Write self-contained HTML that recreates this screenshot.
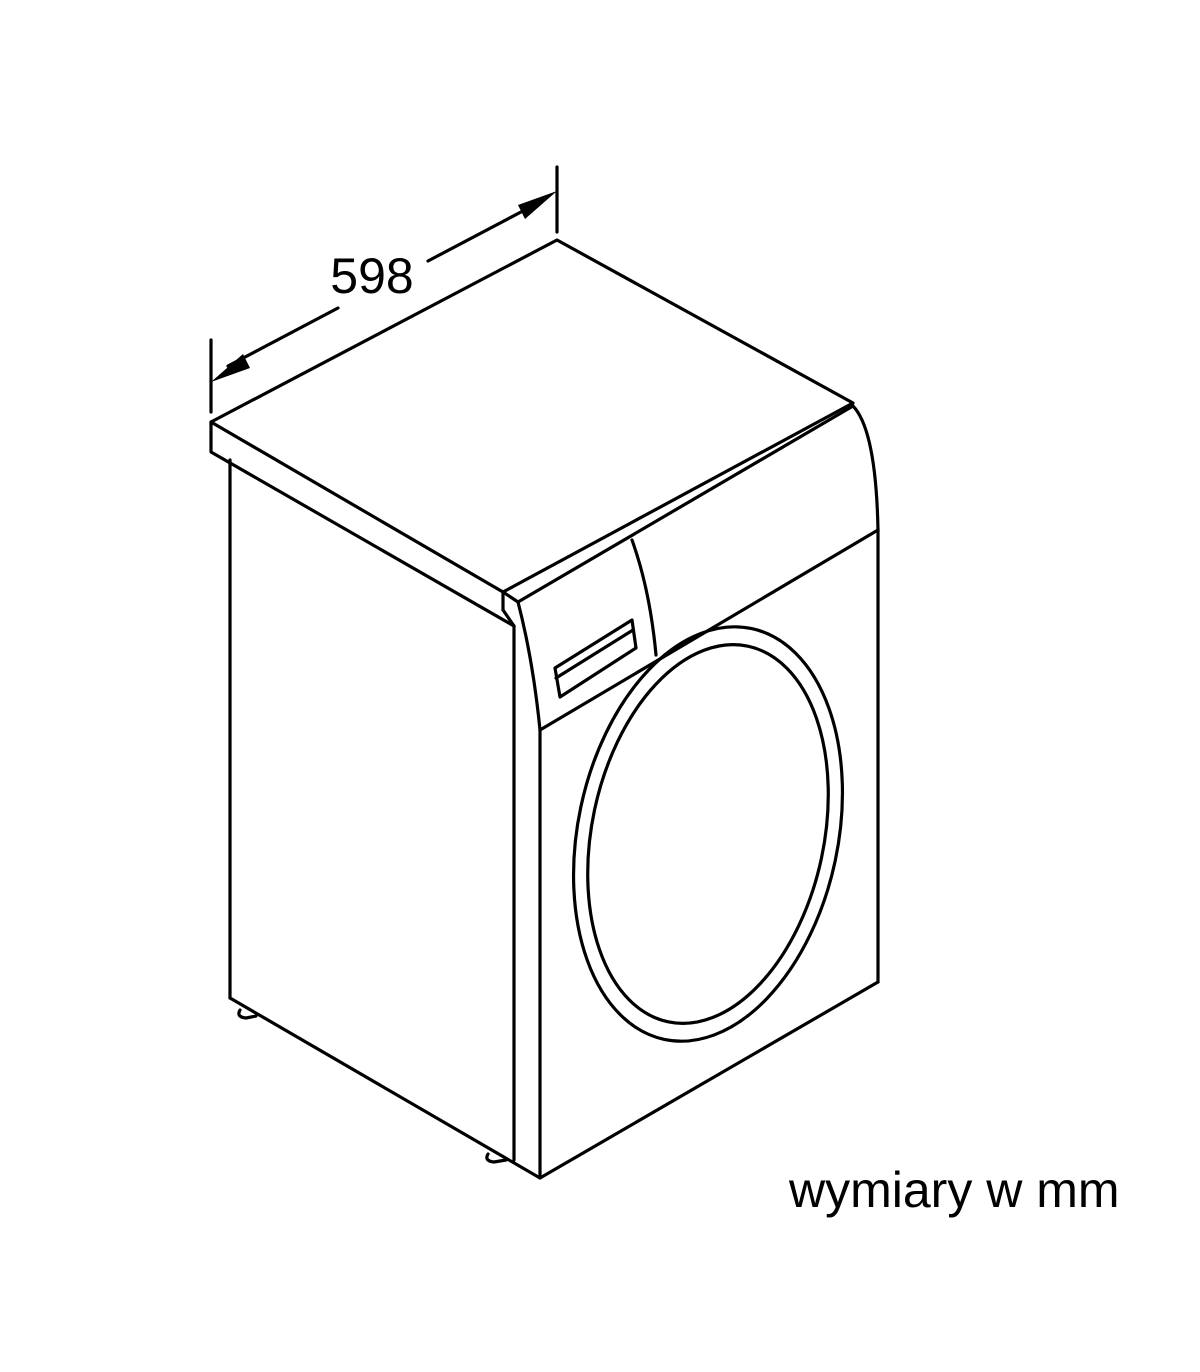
<!DOCTYPE html>
<html><head><style>body{margin:0;background:#fff}svg{display:block}</style></head><body>
<svg width="1200" height="1372" viewBox="0 0 1200 1372" xmlns="http://www.w3.org/2000/svg">
<g fill="none" stroke="#000" stroke-width="3.2" stroke-linejoin="round" stroke-linecap="round">
<!-- dimension -->
<line x1="211" y1="340" x2="211" y2="412"/>
<line x1="557" y1="167" x2="557" y2="232"/>
<line x1="228" y1="366" x2="338" y2="308"/>
<line x1="428" y1="261" x2="540" y2="202"/>
<!-- top -->
<polygon points="211,422 557,240 853,403 503,592"/>
<polyline points="211,422 211,452 514,626"/>
<line x1="503" y1="592" x2="503" y2="610"/>
<line x1="503" y1="592" x2="518" y2="602"/>
<line x1="518" y1="602" x2="853" y2="406"/>
<line x1="503" y1="610" x2="514" y2="626"/>
<path d="M853,406 Q876,430 878,530"/>
<path d="M518,602 Q533,660 540,730"/>
<path d="M632,540 Q650,590 656,655"/>
<line x1="540" y1="730" x2="878" y2="530"/>
<polygon points="555,668 632,620 636,648 560,697"/>
<line x1="556" y1="678" x2="633" y2="630"/>
<!-- body -->
<line x1="230" y1="460" x2="230" y2="998"/>
<line x1="514" y1="626" x2="514" y2="1160"/>
<line x1="540" y1="730" x2="540" y2="1178"/>
<line x1="878" y1="530" x2="878" y2="982"/>
<polyline points="230,998 540,1178 878,982"/>
<path d="M240,1010 Q236,1017 246,1018 L256,1016" />
<path d="M488,1154 Q484,1161 494,1162 L506,1160" />
<!-- door -->
<ellipse cx="708" cy="834" rx="130" ry="210" transform="rotate(12 708 834)"/>
<ellipse cx="708" cy="834" rx="116" ry="192" transform="rotate(12 708 834)"/>
</g>
<polygon points="211,382 243,354 250,368" fill="#000"/>
<polygon points="557,191 525,219 518,205" fill="#000"/>
<text x="372" y="293" font-family="Liberation Sans, sans-serif" font-size="50" text-anchor="middle">598</text>
<text x="789" y="1207" font-family="Liberation Sans, sans-serif" font-size="50">wymiary w mm</text>
</svg>
</body></html>
